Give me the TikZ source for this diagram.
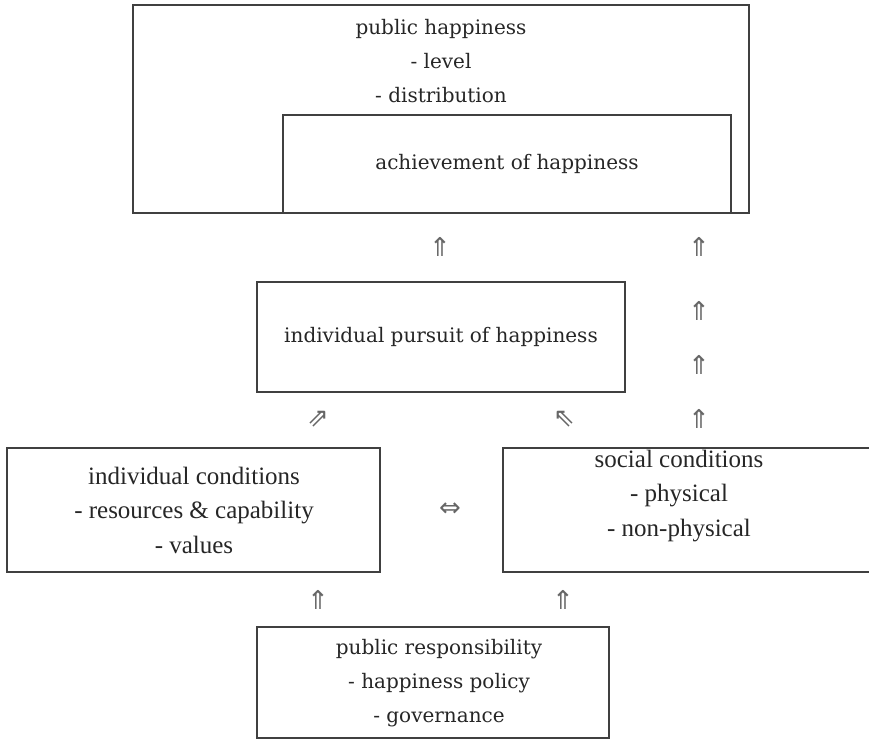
\documentclass[tikz,border=0pt]{standalone}
\usepackage{fontspec}
\setmainfont{DejaVu Serif}
\newfontfamily\condfont{Liberation Serif}
\newfontfamily\arrowfont{DejaVu Sans}
\usepackage{xcolor}
\usepackage{tikz}
\usetikzlibrary{positioning}

\begin{document}
\begin{tikzpicture}[x=1pt, y=-1pt,
    box/.style={rectangle, draw=black!75, line width=1.3pt, inner sep=0pt},
    widetext/.style={align=center, text=black!85, font=\fontsize{20}{34}\selectfont},
    condtext/.style={align=center, text=black!85, font=\condfont\fontsize{25}{34.5}\selectfont},
    uparr/.style={text=black!60, font=\arrowfont\fontsize{26}{26}\selectfont}]
    \useasboundingbox (0,0) rectangle (869,740);

    \node[box, minimum width=616pt, minimum height=208pt] (public) at (441,109) {};
    \node[widetext] (publictext) at (441,61) {public happiness\\- level\\- distribution};
    \node[box, minimum width=448pt, minimum height=98pt, widetext] (achieve) at (507,164) {achievement of happiness};

    \node[box, minimum width=368pt, minimum height=110pt, widetext] (pursuit) at (441,337) {individual pursuit of happiness};

    \node[box, minimum width=373pt, minimum height=124pt] (indiv) at (193.5,510) {};
    \node[condtext] (indivtext) at (194,510) {individual conditions\\- resources \& capability\\- values};
    \node[box, minimum width=380pt, minimum height=124pt] (social) at (693,510) {};
    \node[condtext] (socialtext) at (679,496) {social conditions\\- physical\\- non-physical};

    \node[box, minimum width=352pt, minimum height=111pt] (resp) at (433,682.5) {};
    \node[widetext] (resptext) at (439,683) {public responsibility\\- happiness policy\\- governance};

    % arrows between the levels
    \node[uparr] (a1) at (440,247) {⇑};
    \node[uparr] (a2) at (699,247) {⇑};
    \node[uparr] (a3) at (699,311) {⇑};
    \node[uparr] (a4) at (699,365) {⇑};
    \node[uparr] (a5) at (699,419) {⇑};
    \node[uparr] (a6) at (318,419) {⇗};
    \node[uparr] (a7) at (564,419) {⇖};
    \node[uparr] (a8) at (450,510) {⇔};
    \node[uparr] (a9) at (318,600) {⇑};
    \node[uparr] (a10) at (563,600) {⇑};
\end{tikzpicture}
\end{document}
